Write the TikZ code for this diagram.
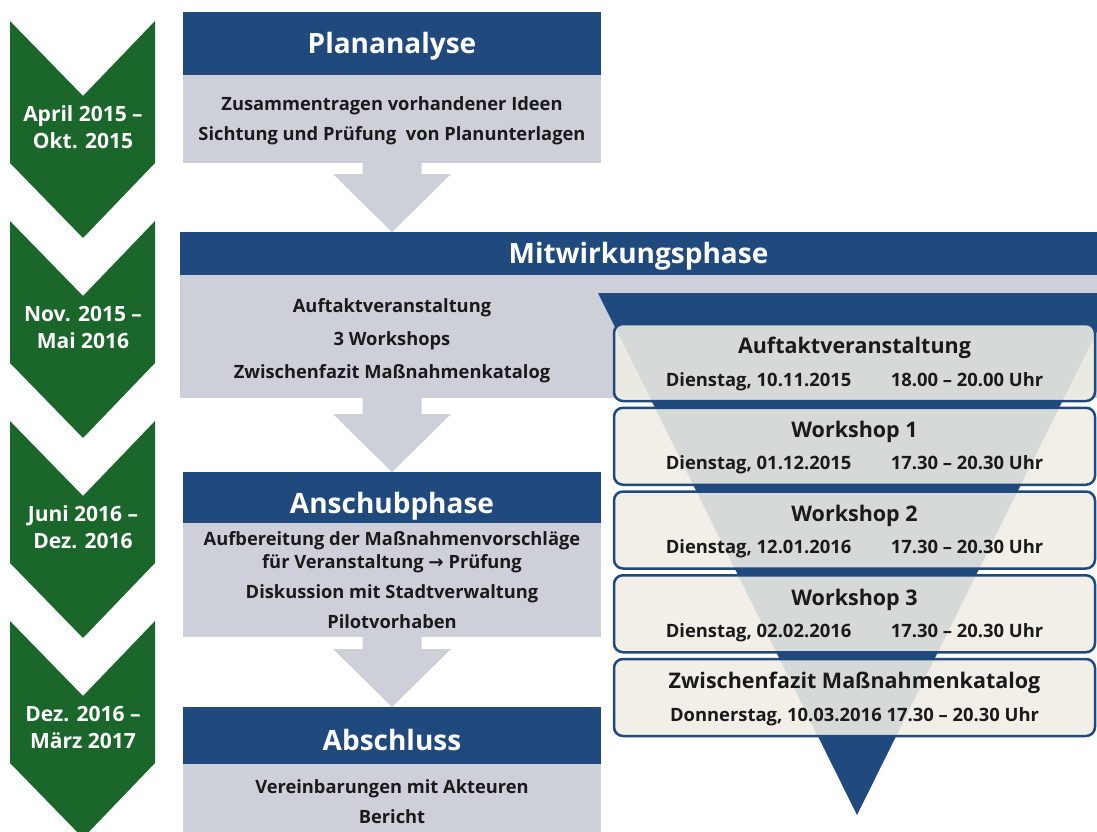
\documentclass[tikz,border=0pt]{standalone}
\usepackage{fontspec}
\setmainfont{Open Sans}
\newfontfamily\arrowfont{DejaVu Sans}
\usetikzlibrary{calc}
\definecolor{headblue}{RGB}{32,74,125}
\definecolor{bodygrey}{RGB}{205,208,217}
\definecolor{chevgreen}{RGB}{26,102,43}
\definecolor{cream}{RGB}{239,237,228}
\definecolor{inkdark}{RGB}{26,26,26}
\tikzset{
  % phase boxes on the left
  phasehead/.style={fill=headblue,text=white,anchor=north west,inner sep=0pt,outer sep=0pt,
    minimum width=418pt,text height=20pt,text depth=0pt,font=\fontsize{28}{32}\selectfont\bfseries},
  phasebody/.style={fill=bodygrey,text=inkdark,anchor=north west,inner sep=0pt,outer sep=0pt,
    minimum width=418pt,align=center,font=\fontsize{18.3}{30}\selectfont\bfseries},
  periodtext/.style={text=white,align=center,font=\fontsize{21}{27}\selectfont\bfseries},
  % rounded event boxes in the funnel
  eventbox/.style={draw=headblue,line width=2.5pt,rounded corners=9pt,fill=cream,
    fill opacity=0.88,minimum width=481pt,minimum height=77pt,inner sep=0pt},
  arrowgrey/.style={fill=bodygrey},
}
\newcommand\evline[2]{\makebox[225pt][l]{#1}#2}
% grey arrow from a box bottom (#1) to the tip (#2)
\newcommand\phasearrow[2]{%
  \fill[arrowgrey] (#2) -- ++(-59,-58) -- ++(29.5,0) |- (#1) -- ++(29.5,0)
    |- ($(#2)+(59,-58)$) -- cycle;}

\begin{document}
\begin{tikzpicture}[x=1pt,y=-1pt]
\useasboundingbox (0,0) rectangle (1097,832);
\clip (0,0) rectangle (1097,832);

% time line
\foreach \y/\txt [count=\i] in {21/{April 2015 –\\Okt. 2015},221/{Nov. 2015 –\\Mai 2016},
    421/{Juni 2016 –\\Dez. 2016},621/{Dez. 2016 –\\März 2017}}{
  \fill[chevgreen] (10,\y) -- (83,\y+75) -- (155,\y) -- (155,\y+142) -- (83,\y+217)
    -- (10,\y+142) -- cycle;
  \node[periodtext] (period\i) at (83,\y+106) {\txt};
}

\node[phasehead,minimum height=63pt] (planhead) at (183,12) {Plananalyse};
\node[phasebody,minimum height=88pt,text depth=-4pt] (planbody) at (183,75)
  {Zusammentragen vorhandener Ideen\\Sichtung und Prüfung\ \ von Planunterlagen};

\node[phasebody,minimum width=917pt,minimum height=123pt] (mitwbody) at (180,275) {};
\node[phasehead,minimum width=917pt,minimum height=43pt] (mitwhead) at (180,232) {Mitwirkungsphase};
\node[text=inkdark,align=center,font=\fontsize{18.3}{33}\selectfont\bfseries] (mitwlist) at (392,341)
  {Auftaktveranstaltung\\3 Workshops\\Zwischenfazit Maßnahmenkatalog};

% funnel
\fill[headblue] (598,293) -- (1116,293) -- (857,815) -- cycle;
\foreach \ev/\ttl/\ln [count=\i from 0] in {
    evkick/Auftaktveranstaltung/{\evline{Dienstag, 10.11.2015}{18.00 – 20.00 Uhr}},
    evone/Workshop 1/{\evline{Dienstag, 01.12.2015}{17.30 – 20.30 Uhr}},
    evtwo/Workshop 2/{\evline{Dienstag, 12.01.2016}{17.30 – 20.30 Uhr}},
    evthree/Workshop 3/{\evline{Dienstag, 02.02.2016}{17.30 – 20.30 Uhr}},
    evcat/Zwischenfazit Maßnahmenkatalog/{Donnerstag, 10.03.2016 17.30 – 20.30 Uhr}}{
  \node[eventbox] (\ev) at (854.5,362.5+83.75*\i) {};
  \node[text=inkdark,align=center] (\ev text) at ([yshift=-1.5pt]\ev.center)
    {{\fontsize{21.5}{24}\selectfont\bfseries\ttl}\\[12pt]{\fontsize{18.4}{20}\selectfont\bfseries\ln}};
}

\node[phasehead,minimum height=51pt,text height=31pt] (anschhead) at (183,472) {Anschubphase};
\node[phasebody,minimum height=114pt] (anschbody) at (183,523)
  {Aufbereitung der Maßnahmenvorschläge\\[-7pt]für Veranstaltung {\arrowfont\bfseries →} Prüfung\\
   Diskussion mit Stadtverwaltung\\Pilotvorhaben};

\node[phasehead,minimum height=57pt,text height=29pt] (abschhead) at (183,707) {Abschluss};
\node[phasebody,minimum height=76pt] (abschbody) at (183,764)
  {Vereinbarungen mit Akteuren\\Bericht};

\phasearrow{planbody.south}{planbody.south |- mitwhead.north}
\phasearrow{anschhead.north |- mitwbody.south}{anschhead.north}
\phasearrow{anschbody.south}{abschhead.north}
\end{tikzpicture}
\end{document}
